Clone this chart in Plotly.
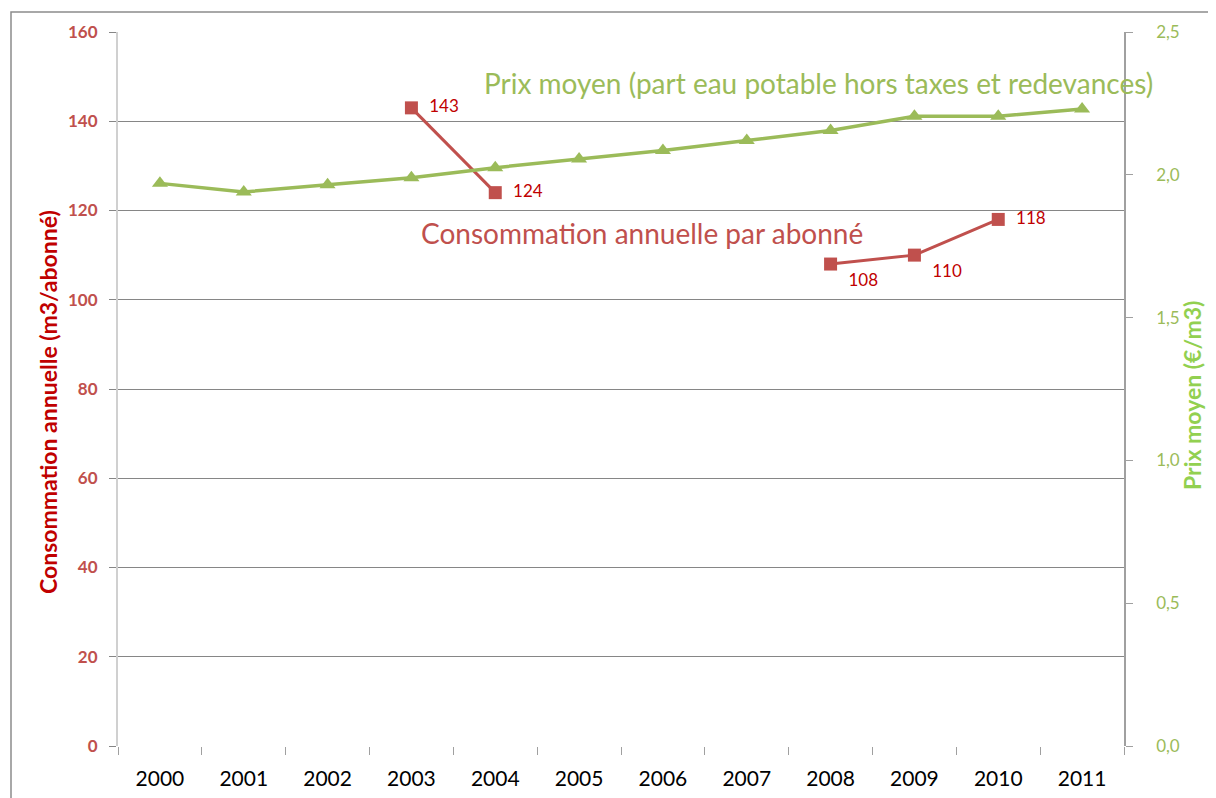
import plotly.graph_objects as go

years = ["2000", "2001", "2002", "2003", "2004", "2005", "2006", "2007", "2008", "2009", "2010", "2011"]
consommation = [None, None, None, 143, 124, None, None, None, 108, 110, 118, None]
prix = [1.97, 1.94, 1.965, 1.99, 2.025, 2.055, 2.085, 2.12, 2.155, 2.205, 2.205, 2.23]
conso_label_pos = ["middle right", "middle right", "middle right", "middle right", "middle right",
                   "middle right", "middle right", "middle right", "bottom right", "bottom right",
                   "middle right", "middle right"]

left_ticks = [0, 20, 40, 60, 80, 100, 120, 140, 160]
right_ticks = [0.0, 0.5, 1.0, 1.5, 2.0, 2.5]
right_tick_text = ["0,0", "0,5", "1,0", "1,5", "2,0", "2,5"]

RED = "#c0504d"
GREEN = "#9bbb59"
FONT = "Lato, Open Sans, sans-serif"

OFF = 8  # page body margin
L, R, T, B = 110, 92, 24, 52
W, H = 1208, 790
pw, ph = W - L - R, H - T - B

def px(x):
    return (x - OFF - L) / pw

def py(y):
    return (H - B - (y - OFF)) / ph

fig = go.Figure()

fig.add_trace(go.Scatter(
    x=years, y=prix, yaxis="y2", mode="lines+markers",
    line=dict(color=GREEN, width=3.5),
    marker=dict(symbol="triangle-up", size=14, color=GREEN),
    showlegend=False, hoverinfo="skip",
))

fig.add_trace(go.Scatter(
    x=years, y=consommation, mode="lines+markers+text",
    line=dict(color=RED, width=3),
    marker=dict(symbol="square", size=13, color=RED),
    text=[("  " + str(v)) if v is not None else "" for v in consommation],
    textposition=conso_label_pos,
    textfont=dict(color="#c00000", size=17, family=FONT),
    connectgaps=False, showlegend=False, hoverinfo="skip",
))

fig.update_layout(
    width=W, height=H,
    margin=dict(l=L, r=R, t=T, b=B, autoexpand=False),
    paper_bgcolor="white", plot_bgcolor="white",
    font=dict(family=FONT),
    xaxis=dict(
        type="category", tickson="boundaries", ticks="outside", ticklen=8,
        tickcolor="#a0a0a0", showgrid=False, showline=False,
        tickfont=dict(size=21, color="black", family=FONT),
        range=[-0.5, 11.5], ticklabelstandoff=18, automargin=False,
    ),
    yaxis=dict(
        range=[0, 160], tickvals=left_ticks, ticks="outside", ticklen=7,
        tickcolor="#868686", showgrid=True, gridcolor="#868686", gridwidth=1,
        showline=True, linecolor="#d0d0d0", linewidth=2, zeroline=False,
        tickfont=dict(size=17, color=RED, family=FONT, weight="bold"),
        ticklabelstandoff=8, automargin=False,
    ),
    yaxis2=dict(
        range=[0, 2.5], tickvals=right_ticks, ticktext=right_tick_text,
        overlaying="y", side="right", ticks="outside", ticklen=7,
        tickcolor="#a0a0a0", showgrid=False, showline=True,
        linecolor="#a0a0a0", linewidth=1.5, zeroline=False,
        tickfont=dict(size=17, color=GREEN, family=FONT),
        ticklabelstandoff=20, automargin=False,
    ),
    shapes=[
        dict(type="rect", xref="paper", yref="paper",
             x0=px(11), x1=px(1240), y0=py(820), y1=py(12),
             line=dict(color="#8c8c8c", width=1.5), layer="below"),
    ],
    annotations=[
        dict(text="Prix moyen (part eau potable hors taxes et redevances)",
             x=px(818), y=py(83), xref="paper", yref="paper",
             xanchor="center", yanchor="middle",
             showarrow=False, font=dict(size=28, color=GREEN, family=FONT)),
        dict(text="Consommation annuelle par abonné",
             x=px(642), y=py(233), xref="paper", yref="paper",
             xanchor="center", yanchor="middle",
             showarrow=False, font=dict(size=28, color=RED, family=FONT)),
        dict(text="<b>Consommation annuelle (m3/abonné)</b>",
             x=px(48), y=py(402), xref="paper", yref="paper", textangle=-90,
             xanchor="center", yanchor="middle",
             showarrow=False, font=dict(size=23, color="#c00000", family=FONT)),
        dict(text="<b>Prix moyen (€/m3)</b>",
             x=px(1192), y=py(396), xref="paper", yref="paper", textangle=-90,
             xanchor="center", yanchor="middle",
             showarrow=False, font=dict(size=23, color="#92d050", family=FONT)),
    ],
)

fig.write_html("out.html")
